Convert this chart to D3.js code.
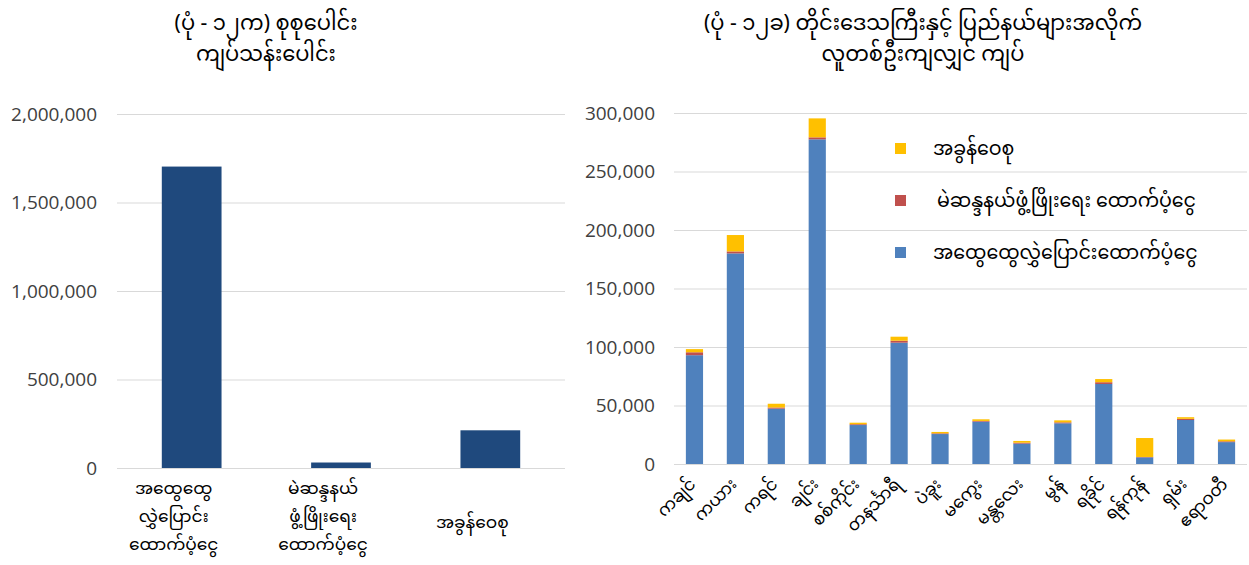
<!DOCTYPE html>
<html>
<head>
<meta charset="utf-8">
<script src="https://cdn.jsdelivr.net/npm/d3@7"></script>
<style>
  body { margin: 0; background: #fff; }
  svg { display: block; font-family: "Noto Sans Myanmar", "Myanmar Text", Padauk, "Open Sans", sans-serif; }
  .tick text { font-family: "Open Sans", sans-serif; fill: #404040; }
</style>
</head>
<body>
<svg width="1249" height="565"></svg>
<script>
// left chart: totals (kyat millions)
const leftCats = [
  ["အထွေထွေ", "လွှဲပြောင်း", "ထောက်ပံ့ငွေ"],
  ["မဲဆန္ဒနယ်", "ဖွံ့ဖြိုးရေး", "ထောက်ပံ့ငွေ"],
  ["အခွန်ဝေစု"]
];
const leftValues = [1703000, 31000, 213000];
const leftTicks = [0, 500000, 1000000, 1500000, 2000000];

// right chart: per capita by region / state
const regions = ["ကချင်", "ကယား", "ကရင်", "ချင်း", "စစ်ကိုင်း", "တနင်္သာရီ", "ပဲခူး",
  "မကွေး", "မန္တလေး", "မွန်", "ရခိုင်", "ရန်ကုန်", "ရှမ်း", "ဧရာဝတီ"];
const generalTransfer = [93000, 180000, 47300, 277500, 33300, 103700, 25600, 36200, 17400, 34800, 68400, 5700, 37600, 18700];
const constituencyFund = [2500, 1700, 1000, 1700, 700, 1700, 600, 600, 800, 800, 1500, 300, 1000, 700];
const taxShare = [2700, 14000, 3200, 16200, 1300, 3400, 1200, 1400, 1500, 1700, 2700, 16200, 1400, 1500];
const rightTicks = [0, 50000, 100000, 150000, 200000, 250000, 300000];

const seriesNames = ["အထွေထွေလွှဲပြောင်းထောက်ပံ့ငွေ", "မဲဆန္ဒနယ်ဖွံ့ဖြိုးရေး ထောက်ပံ့ငွေ", "အခွန်ဝေစု"];
const seriesColors = ["#4f81bd", "#c0504d", "#ffc000"];

const svg = d3.select("svg");
const fmt = d3.format(",");

// ---------- titles
function title(cx, size, lines) {
  const t = svg.append("text").attr("text-anchor", "middle").attr("fill", "#000").style("font-size", size + "px");
  lines.forEach((l, i) => t.append("tspan").attr("x", cx).attr("y", 30 + i * 31).text(l));
}
title(266, 21, ["(ပုံ - ၁၂က) စုစုပေါင်း", "ကျပ်သန်းပေါင်း"]);
title(923, 21, ["(ပုံ - ၁၂ခ) တိုင်းဒေသကြီးနှင့် ပြည်နယ်များအလိုက်", "လူတစ်ဦးကျလျှင် ကျပ်"]);

// ---------- left chart
const L = { x0: 117, x1: 565, y0: 468, y1: 114 };
const xl = d3.scaleBand().domain(d3.range(leftValues.length)).range([L.x0, L.x1]).paddingInner(0.6).paddingOuter(0.3);
const yl = d3.scaleLinear().domain([0, 2000000]).range([L.y0, L.y1]);

const gl = svg.append("g");
gl.append("g")
  .attr("transform", `translate(${L.x0},0)`)
  .call(d3.axisLeft(yl).tickValues(leftTicks).tickFormat(fmt).tickSize(-(L.x1 - L.x0)).tickPadding(20))
  .call(g => g.select(".domain").remove())
  .call(g => g.selectAll(".tick line").attr("stroke", "#d9d9d9"))
  .call(g => g.selectAll(".tick text").style("font-size", "19px"));

gl.selectAll("rect").data(leftValues).enter().append("rect")
  .attr("x", (d, i) => xl(i))
  .attr("width", xl.bandwidth())
  .attr("y", d => yl(d))
  .attr("height", d => yl(0) - yl(d))
  .attr("fill", "#1f497d");

leftCats.forEach((lines, i) => {
  const cx = xl(i) + xl.bandwidth() / 2 - 18;
  const t = gl.append("text").attr("text-anchor", "middle").attr("fill", "#000").style("font-size", "17px");
  const startY = lines.length === 1 ? 528 : 494;
  lines.forEach((l, j) => t.append("tspan").attr("x", cx).attr("y", startY + j * 28).text(l));
});

// ---------- right chart
const R = { x0: 674, x1: 1247, y0: 464, y1: 113 };
const xr = d3.scaleBand().domain(regions).range([R.x0, R.x1]).paddingInner(0.58).paddingOuter(0.29);
const yr = d3.scaleLinear().domain([0, 300000]).range([R.y0, R.y1]);

const gr = svg.append("g");
gr.append("g")
  .attr("transform", `translate(${R.x0},0)`)
  .call(d3.axisLeft(yr).tickValues(rightTicks).tickFormat(fmt).tickSize(-(R.x1 - R.x0)).tickPadding(19))
  .call(g => g.select(".domain").remove())
  .call(g => g.selectAll(".tick line").attr("stroke", "#d9d9d9"))
  .call(g => g.selectAll(".tick text").style("font-size", "19px"));

const table = regions.map((r, i) => ({ region: r, s0: generalTransfer[i], s1: constituencyFund[i], s2: taxShare[i] }));
const stacked = d3.stack().keys(["s0", "s1", "s2"])(table);

gr.selectAll("g.layer").data(stacked).enter().append("g")
  .attr("class", "layer")
  .attr("fill", (d, i) => seriesColors[i])
  .selectAll("rect").data(d => d).enter().append("rect")
  .attr("x", d => xr(d.data.region))
  .attr("width", xr.bandwidth())
  .attr("y", d => yr(d[1]))
  .attr("height", d => yr(d[0]) - yr(d[1]));

gr.append("g")
  .selectAll("text").data(regions).enter().append("text")
  .attr("transform", d => `translate(${xr(d) + xr.bandwidth() / 2 - 2},${R.y0 + 17}) rotate(-45)`)
  .attr("text-anchor", "end")
  .attr("dy", "0.35em")
  .attr("fill", "#000")
  .style("font-size", "17px")
  .text(d => d);

// legend (top to bottom: tax share, constituency fund, general transfer)
const legendItems = [2, 1, 0];
const lg = gr.append("g");
legendItems.forEach((s, k) => {
  const cy = 148 + k * 52;
  lg.append("rect").attr("x", 895).attr("y", cy - 5).attr("width", 11).attr("height", 11).attr("fill", seriesColors[s]);
  lg.append("text").attr("x", s === 1 ? 937 : 933).attr("y", cy).attr("dy", "0.35em")
    .attr("fill", "#000").style("font-size", "19px").text(seriesNames[s]);
});
</script>
</body>
</html>
